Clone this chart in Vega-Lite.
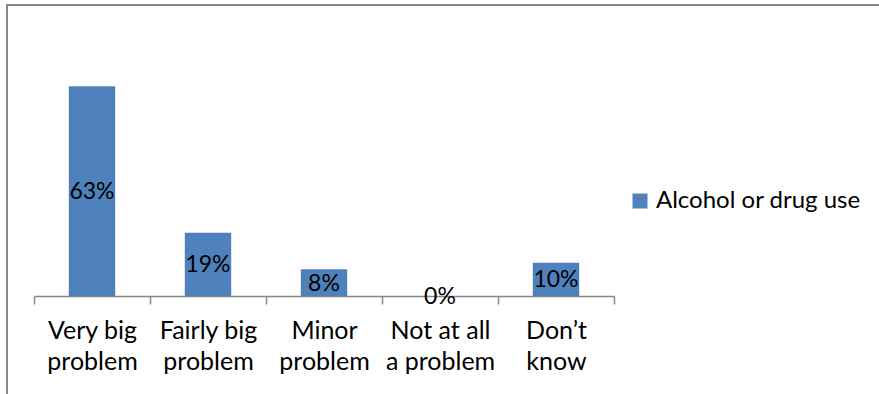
{
  "$schema": "https://vega.github.io/schema/vega-lite/v6.json",
  "width": 880,
  "height": 400,
  "autosize": "none",
  "padding": {"left": 7, "top": 5, "right": 0, "bottom": 0},
  "background": "white",
  "config": {
    "view": {"stroke": "#868686", "strokeWidth": 2},
    "font": "Lato"
  },
  "data": {
    "values": [
      {"category": "Very big problem", "value": 0.63, "series": "Alcohol or drug use"},
      {"category": "Fairly big problem", "value": 0.19, "series": "Alcohol or drug use"},
      {"category": "Minor problem", "value": 0.08, "series": "Alcohol or drug use"},
      {"category": "Not at all a problem", "value": 0.0, "series": "Alcohol or drug use"},
      {"category": "Don’t know", "value": 0.10, "series": "Alcohol or drug use"}
    ]
  },
  "encoding": {
    "x": {
      "field": "category",
      "type": "nominal",
      "sort": null,
      "scale": {"range": [27, 607], "paddingInner": 0, "paddingOuter": 0},
      "axis": {
        "title": null,
        "labelAngle": 0,
        "offset": -109,
        "tickBand": "extent",
        "domainColor": "#868686",
        "domainWidth": 1.5,
        "tickColor": "#868686",
        "tickWidth": 1.5,
        "tickSize": 8,
        "labelFont": "Lato",
        "labelFontSize": 25,
        "labelColor": "#000000",
        "labelLineHeight": 31,
        "labelPadding": 14,
        "labelExpr": "!isValid(datum.value) ? '' : datum.value == 'Very big problem' ? ['Very big','problem'] : datum.value == 'Fairly big problem' ? ['Fairly big','problem'] : datum.value == 'Minor problem' ? ['Minor','problem'] : datum.value == 'Not at all a problem' ? ['Not at all','a problem'] : datum.value == 'Don’t know' ? ['Don’t','know'] : ''"
      }
    }
  },
  "layer": [
    {
      "mark": {"type": "bar", "width": {"band": 0.4}, "color": "#4F81BD"},
      "encoding": {
        "y": {
          "field": "value",
          "type": "quantitative",
          "scale": {"domain": [0, 0.7], "range": [291, 58], "nice": false},
          "axis": null
        },
        "color": {
          "field": "series",
          "type": "nominal",
          "scale": {"range": ["#4F81BD"]},
          "legend": {
            "title": null,
            "orient": "none",
            "legendX": 621,
            "legendY": 184,
            "symbolType": "square",
            "symbolSize": 225,
            "symbolStrokeWidth": 0,
            "labelFont": "Lato",
            "labelFontSize": 24,
            "labelColor": "#000000",
            "labelOffset": 4,
            "labelLimit": 400
          }
        }
      }
    },
    {
      "transform": [{"calculate": "datum.value / 2", "as": "mid"}],
      "mark": {"type": "text", "baseline": "middle", "align": "center", "fontSize": 23, "font": "Lato", "color": "#000000", "dy": 1},
      "encoding": {
        "y": {"field": "mid", "type": "quantitative", "scale": {"domain": [0, 0.7], "range": [291, 58], "nice": false}},
        "text": {"field": "value", "type": "quantitative", "format": ".0%"}
      }
    }
  ]
}
